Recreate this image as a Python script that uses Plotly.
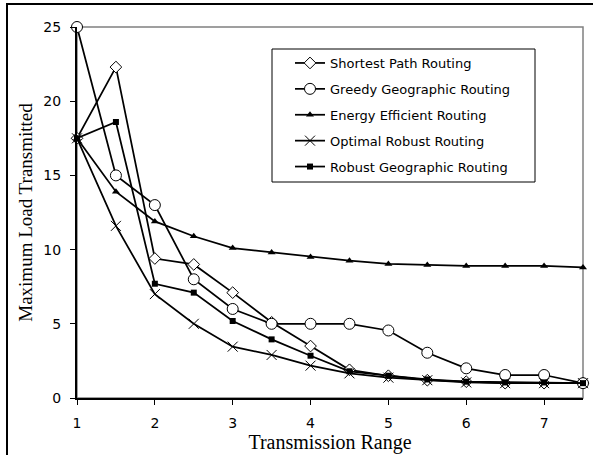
import plotly.graph_objects as go

x_range = [1, 1.5, 2, 2.5, 3, 3.5, 4, 4.5, 5, 5.5, 6, 6.5, 7, 7.5]

shortest_path = [17.5, 22.3, 9.4, 9.0, 7.1, 5.1, 3.5, 1.9, 1.5, 1.2, 1.1, 1.0, 1.0, 1.0]
greedy_geo = [25.0, 15.0, 13.0, 8.0, 6.0, 5.0, 5.0, 5.0, 4.55, 3.05, 2.0, 1.55, 1.55, 1.0]
energy_eff = [17.5, 13.9, 11.9, 10.9, 10.1, 9.8, 9.5, 9.25, 9.03, 8.96, 8.9, 8.9, 8.9, 8.8]
optimal_robust = [17.5, 11.6, 7.0, 5.0, 3.46, 2.9, 2.18, 1.66, 1.37, 1.2, 1.05, 1.0, 1.0, 1.0]
robust_geo = [17.5, 18.6, 7.7, 7.1, 5.19, 3.95, 2.85, 1.8, 1.5, 1.25, 1.1, 1.05, 1.05, 1.0]

names = ["Shortest Path Routing", "Greedy Geographic Routing", "Energy Efficient Routing",
         "Optimal Robust Routing", "Robust Geographic Routing"]
x_ticks = [1, 2, 3, 4, 5, 6, 7]
y_ticks = [0, 5, 10, 15, 20, 25]

series = [shortest_path, greedy_geo, energy_eff, optimal_robust, robust_geo]
markers = [
    dict(symbol="diamond", size=9, color="white", line=dict(color="black", width=1)),
    dict(symbol="circle", size=11, color="white", line=dict(color="black", width=1)),
    dict(symbol="triangle-up", size=7, color="black", line=dict(color="black", width=0)),
    dict(symbol="x-thin", size=10, color="black", line=dict(color="black", width=1)),
    dict(symbol="square", size=6, color="black", line=dict(color="black", width=0)),
]

fig = go.Figure()
for i, (nm, ys, mk) in enumerate(zip(names, series, markers)):
    fig.add_trace(go.Scatter(
        x=x_range, y=ys, name=nm, mode="lines+markers",
        line=dict(color="black", width=1.75), marker=mk,
        cliponaxis=False, legendgroup=f"g{i}",
    ))

fig.update_layout(
    width=593, height=455,
    margin=dict(l=77, r=10, t=27, b=57),
    paper_bgcolor="white", plot_bgcolor="white",
    showlegend=True,
    legend=dict(
        x=(290 - 77) / 506, y=(398 - 48) / 371, xanchor="left", yanchor="top",
        bgcolor="rgba(0,0,0,0)", borderwidth=0,
        font=dict(family="DejaVu Sans", size=13, color="black"),
        tracegroupgap=6, traceorder="grouped",
    ),
    font=dict(family="DejaVu Sans", color="black"),
    xaxis=dict(
        range=[1, 7.5], tickvals=x_ticks, ticks="outside", ticklen=5, tickcolor="black",
        showgrid=False, zeroline=False, showline=True, linecolor="black", linewidth=2,
        tickfont=dict(family="DejaVu Sans", size=14, color="black"),
        ticklabelstandoff=6,
        title=dict(text="Transmission Range", font=dict(family="Liberation Serif", size=20, color="black"), standoff=0),
        automargin=False,
    ),
    yaxis=dict(
        range=[0, 25], tickvals=y_ticks, ticks="outside", ticklen=5, tickcolor="black",
        showgrid=False, zeroline=False, showline=True, linecolor="black", linewidth=2,
        tickfont=dict(family="DejaVu Sans", size=14, color="black"),
        ticklabelstandoff=6,
        title=dict(text="Maximum Load Transmitted", font=dict(family="Liberation Serif", size=19, color="black"), standoff=6),
        automargin=False,
    ),
    shapes=[
        dict(type="rect", xref="paper", yref="paper", x0=0, x1=1, y0=0, y1=1,
             line=dict(color="#808080", width=1.5), layer="below"),
        dict(type="rect", xref="paper", yref="paper",
             x0=(7 - 77) / 506, x1=(620 - 77) / 506, y0=(398 - 480) / 371, y1=(398 - 4) / 371,
             line=dict(color="black", width=2), layer="below"),
        dict(type="rect", xref="paper", yref="paper",
             x0=(272 - 77) / 506, x1=(535 - 77) / 506, y0=(398 - 182) / 371, y1=(398 - 49) / 371,
             line=dict(color="black", width=1), fillcolor="white", layer="below"),
    ],
)

fig.write_html("out.html")
